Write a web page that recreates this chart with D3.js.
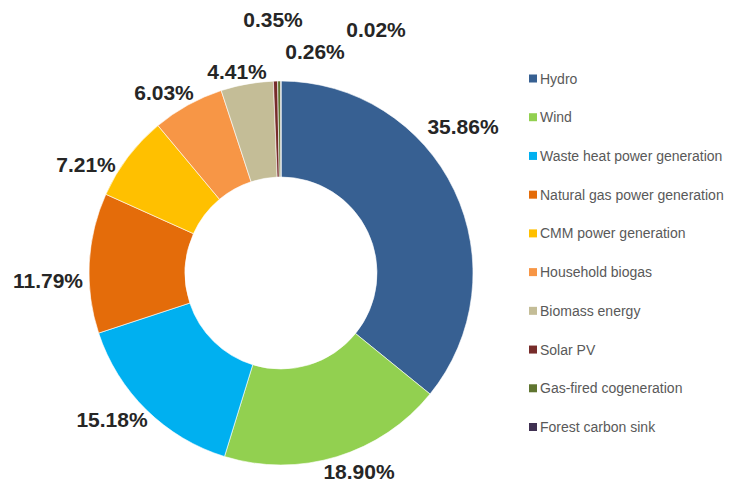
<!DOCTYPE html>
<html><head><meta charset="utf-8">
<script src="https://cdn.jsdelivr.net/npm/d3@7"></script>
<style>body{margin:0;background:#fff;}svg{display:block;}</style>
</head><body>
<svg id="chart" width="739" height="483"></svg>
<script>
const categories = ["Hydro","Wind","Waste heat power generation","Natural gas power generation","CMM power generation","Household biogas","Biomass energy","Solar PV","Gas-fired cogeneration","Forest carbon sink"];
const values = [35.86,18.90,15.18,11.79,7.21,6.03,4.41,0.35,0.26,0.02];
const labels = ["35.86%","18.90%","15.18%","11.79%","7.21%","6.03%","4.41%","0.35%","0.26%","0.02%"];
const colors = ["#376092","#92D050","#00B0F0","#E46C0A","#FFC000","#F79646","#C4BD97","#772C2A","#5F7530","#403152"];
// label anchor offsets from pie centre (manually placed labels, as in the original)
const labelOffsets = [[182,-139],[78,206],[-169,154],[-233,15],[-195,-101],[-117,-173],[-44,-194],[-8,-246],[34,-214],[95,-236]];

const svg = d3.select("#chart");
const cx = 281, cy = 273, R = 192, r0 = 96;
const pie = d3.pie().sort(null).value(d => d);
const arc = d3.arc().innerRadius(r0).outerRadius(R);
const g = svg.append("g").attr("transform", `translate(${cx},${cy})`);
const arcs = pie(values);
g.selectAll("path").data(arcs).enter().append("path")
  .attr("d", arc).attr("fill", (d,i) => colors[i])
  .attr("stroke", "#fff").attr("stroke-width", 0.6);

g.selectAll("text.lbl").data(arcs).enter().append("text")
  .attr("class","lbl")
  .attr("x", (d,i) => labelOffsets[i][0])
  .attr("y", (d,i) => labelOffsets[i][1])
  .attr("text-anchor","middle")
  .attr("font-family","Liberation Sans, Arial, sans-serif")
  .attr("font-weight","bold").attr("font-size", 21)
  .attr("fill","#262626")
  .text((d,i) => labels[i]);

const legY = d3.scalePoint().domain(categories).range([78.5, 427]);
const leg = svg.append("g");
const items = leg.selectAll("g").data(categories).enter().append("g")
  .attr("transform", d => `translate(529,${legY(d)})`);
items.append("rect").attr("x",0).attr("y",-4).attr("width",8).attr("height",8)
  .attr("fill", (d,i) => colors[i]);
items.append("text").attr("x",11).attr("y",5)
  .attr("font-family","Liberation Sans, Arial, sans-serif")
  .attr("font-size",14).attr("fill","#595959").text(d => d);
</script>
</body></html>
